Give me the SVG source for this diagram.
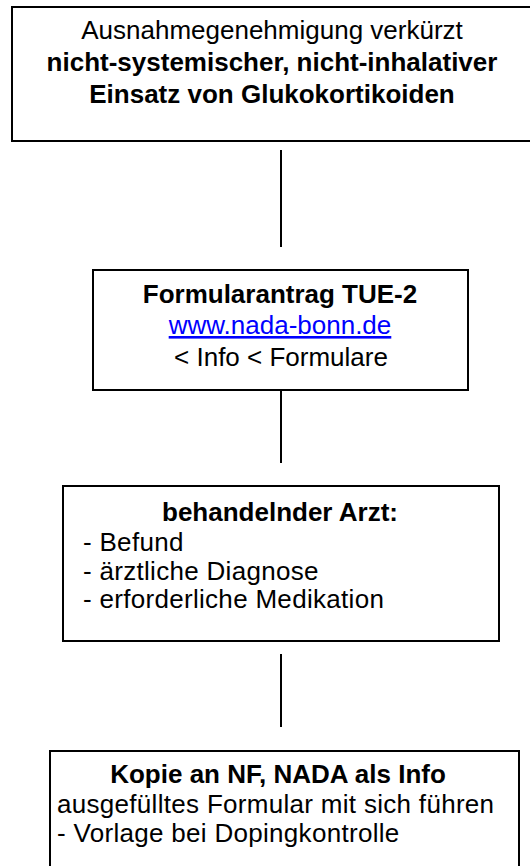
<svg xmlns="http://www.w3.org/2000/svg" width="530" height="866" viewBox="0 0 530 866">
<style>
.box{fill:#fff;stroke:#000;stroke-width:2}
.conn line{stroke:#000;stroke-width:2}
text{font-family:"Liberation Sans",Arial,sans-serif;font-size:26px;fill:#000}
.b{font-weight:bold}
.c{text-anchor:middle}
.ls{letter-spacing:0.3px}
.link{fill:#0000ff;text-decoration:underline}
</style>
<rect width="530" height="866" fill="#fff"/>
<g id="conn" class="conn">
<line x1="281" y1="150" x2="281" y2="247"/>
<line x1="281" y1="390" x2="281" y2="463"/>
<line x1="281" y1="654" x2="281" y2="727"/>
</g>
<g id="n1">
<rect class="box" x="12" y="7" width="522" height="134"/>
<text class="c" x="272" y="39">Ausnahmegenehmigung verkürzt</text>
<text class="c b" x="272" y="71">nicht-systemischer, nicht-inhalativer</text>
<text class="c b" x="272" y="103">Einsatz von Glukokortikoiden</text>
</g>
<g id="n2">
<rect class="box" x="93" y="270" width="375" height="120"/>
<text class="c b" x="280" y="303">Formularantrag TUE-2</text>
<text class="c link" x="280" y="334">www.nada-bonn.de</text>
<text class="c" x="281" y="366">&lt; Info &lt; Formulare</text>
</g>
<g id="n3">
<rect class="box" x="63" y="486" width="436" height="155"/>
<text class="c b" x="280" y="521">behandelnder Arzt:</text>
<text class="ls" x="83" y="551">- Befund</text>
<text class="ls" x="83" y="580">- ärztliche Diagnose</text>
<text class="ls" x="83" y="608">- erforderliche Medikation</text>
</g>
<g id="n4">
<rect class="box" x="50" y="751" width="469" height="130"/>
<text class="c b" x="278" y="783">Kopie an NF, NADA als Info</text>
<text class="ls" x="57" y="813">ausgefülltes Formular mit sich führen</text>
<text class="ls" x="57" y="842">- Vorlage bei Dopingkontrolle</text>
</g>
</svg>
